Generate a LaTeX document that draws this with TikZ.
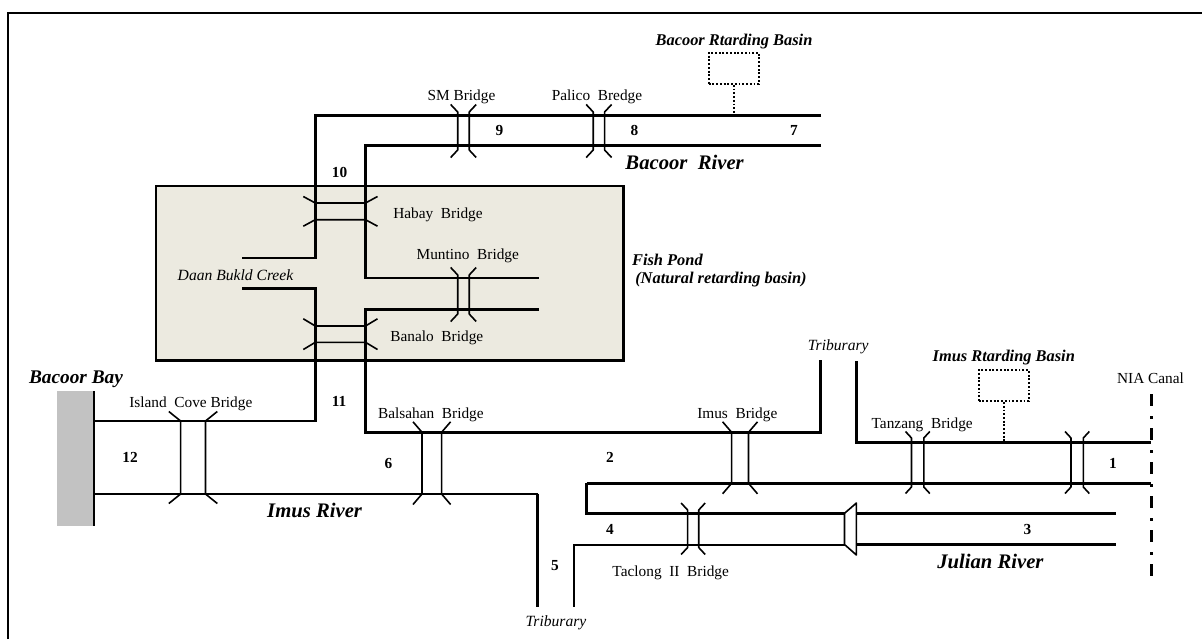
\documentclass[tikz,border=0pt]{standalone}
\usepackage{fontspec}
\setmainfont{Liberation Serif}
\definecolor{pondfill}{HTML}{ECEAE0}
\definecolor{bayfill}{HTML}{C2C2C2}
\tikzset{
  x=0.75pt,y=-0.75pt,
  riverA/.style={line width=2.2pt,line join=miter,line cap=butt},
  riverB/.style={line width=1.8pt,line join=miter,line cap=butt},
  bridgeline/.style={line width=1.2pt,line join=round},
  dotbox/.style={draw,dash pattern=on 1.4pt off 1.4pt,line width=1.3pt,minimum width=37.5pt,minimum height=23.5pt,inner sep=0pt},
  dotstem/.style={dash pattern=on 1.4pt off 1.4pt,line width=1.3pt},
  canal/.style={line width=2.2pt,dash pattern=on 9pt off 7.5pt on 2pt off 7pt},
  tx/.style={inner sep=0pt,yshift=-1.5pt,font=\fontsize{11.5}{13}\selectfont},
  num/.style={inner sep=0pt,font=\fontsize{11.5}{13}\selectfont\bfseries},
  ital/.style={inner sep=0pt,font=\fontsize{11.7}{13}\selectfont\itshape},
  bi/.style={inner sep=0pt,font=\fontsize{12.3}{13}\selectfont\bfseries\itshape},
  big/.style={inner sep=0pt,font=\fontsize{15.5}{17}\selectfont\bfseries\itshape},
}
\newcommand{\vbr}[6]{% x1,x2,yjointtop,yjointbot,dx,dy
  \draw[bridgeline] ({#1-#5},{#3-#6}) -- (#1,#3) -- (#1,#4) -- ({#1-#5},{#4+#6});
  \draw[bridgeline] ({#2+#5},{#3-#6}) -- (#2,#3) -- (#2,#4) -- ({#2+#5},{#4+#6});
}
\newcommand{\hbr}[6]{% y1,y2,xjointleft,xjointright,dx,dy
  \draw[bridgeline] ({#3-#5},{#1-#6}) -- (#3,#1) -- (#4,#1) -- ({#4+#5},{#1-#6});
  \draw[bridgeline] ({#3-#5},{#2+#6}) -- (#3,#2) -- (#4,#2) -- ({#4+#5},{#2+#6});
}
\begin{document}
\begin{tikzpicture}
\useasboundingbox (0,0) rectangle (1202,639);
% frame (top and left only)
\draw[line width=1.2pt] (8,639) -- (8,13) -- (1202,13);
% fish pond
\draw[fill=pondfill,line width=1.9pt] (155.8,186) rectangle (623.7,360.7);
% bay
\fill[bayfill] (57,391) rectangle (94,525.5);
\draw[line width=2.2pt] (94,391) -- (94,525.5);
% Bacoor river and upper channel
\draw[riverA] (821,115.5) -- (315.3,115.5) -- (315.3,258) -- (242,258);
\draw[riverA] (821,145.8) -- (365.5,145.8) -- (365.5,278) -- (539,278);
\draw[riverA] (539,309.7) -- (365.5,309.7) -- (365.5,432.3) -- (820.5,432.3) -- (820.5,360);
\draw[riverA] (242,288.3) -- (315.3,288.3) -- (315.3,421) -- (94,421);
% Imus river
\draw[riverB] (94,493.7) -- (537.7,493.7);
\draw[riverA] (537.7,493.7) -- (537.7,606.7);
\draw[riverA] (574,606.7) -- (574,545) -- (844.5,545);
\draw[riverA] (856.4,544.5) -- (1115.5,544.5);
\draw[riverA] (844.5,513.3) -- (586.7,513.3) -- (586.7,483.3);
\draw[riverB] (586.7,483.3) -- (1151,483.3);
\draw[riverA] (856.4,513.3) -- (1116,513.3);
\draw[riverA] (856.4,361) -- (856.4,442.3) -- (1151,442.3);
% trapezoid structure
\draw[line width=1.2pt,line join=round] (844.5,513.3) -- (856.4,503) -- (856.4,555) -- (844.5,544.5) -- cycle;
% canal
\draw[canal] (1151.5,394) -- (1151.5,576.5);
% bridges
\vbr{457.7}{469.2}{112}{150}{7}{7.5}
\vbr{593.2}{604.6}{112}{150}{7}{7.5}
\vbr{457.7}{469.2}{275}{314}{7}{7.5}
\vbr{180.6}{205.5}{421}{494}{11.8}{9.5}
\vbr{422}{441.6}{432.3}{494}{9}{10.5}
\vbr{731.6}{748.5}{432.3}{483.3}{9}{10.5}
\vbr{911.5}{923.8}{438}{487}{6}{6.5}
\vbr{1071}{1083.3}{438}{487}{6}{6.5}
\vbr{687.6}{698.7}{510}{547.5}{6.5}{7}
\hbr{203}{219.7}{315.3}{365.5}{12}{6.5}
\hbr{326}{342.3}{315.3}{365.5}{12}{7.2}
% dotted boxes
\node[dotbox] (bacoorbasin) at (733.7,68.3) {};
\coordinate (bacoorjoin) at (733.7,115.5);
\draw[dotstem] (bacoorbasin.south) -- (bacoorjoin);
\node[dotbox] (imusbasin) at (1003.7,385.5) {};
\coordinate (imusjoin) at (1003.7,442.3);
\draw[dotstem] (imusbasin.south) -- (imusjoin);
% labels
\node[tx] (tSM) at (461.5,95) {SM Bridge};
\node[tx] (tPal) at (597,95) {Palico\ \ Bredge};
\node[tx] (tHab) at (438,212.7) {Habay\ \ Bridge};
\node[tx] (tMun) at (467.8,254) {Muntino\ \ Bridge};
\node[tx] (tBan) at (436.8,335.7) {Banalo\ \ Bridge};
\node[tx] (tIsl) at (190.8,402) {Island\ \ Cove Bridge};
\node[tx] (tBal) at (430.9,413) {Balsahan\ \ Bridge};
\node[tx] (tImu) at (737.3,412.7) {Imus\ \ Bridge};
\node[tx] (tTan) at (922.2,423) {Tanzang\ \ Bridge};
\node[tx] (tTac) at (670.7,571) {Taclong\ \ II\ \ Bridge};
\node[tx] (tNIA) at (1150.5,376) {NIA Canal};
\node[num] (n1) at (1113,463.7) {1};
\node[num] (n2) at (610,457) {2};
\node[num] (n3) at (1027.5,529.3) {3};
\node[num] (n4) at (610,529.3) {4};
\node[num] (n5) at (555,565.7) {5};
\node[num] (n6) at (388.4,463.7) {6};
\node[num] (n7) at (794,130) {7};
\node[num] (n8) at (634.4,130) {8};
\node[num] (n9) at (499.4,130) {9};
\node[num] (n10) at (339.5,172) {10};
\node[num] (n11) at (339,401.7) {11};
\node[num] (n12) at (130,457.3) {12};
\node[ital] (tCreek) at (235.5,275) {Daan Bukld Creek};
\node[ital] (tTrib1) at (556,622.3) {Triburary};
\node[ital] (tTrib2) at (838.2,346.7) {Triburary};
\node[bi] (tBB) at (734,41.5) {Bacoor Rtarding Basin};
\node[bi] (tIB) at (1003.8,358) {Imus Rtarding Basin};
\node[bi,anchor=west] (tFish) at (631.8,260) {Fish Pond};
\node[bi,anchor=west] (tNat) at (635,280) {(Natural retarding basin)};
\node[big] (tBacR) at (684.6,162.7) {Bacoor\ \ River};
\node[big] (tImR) at (314.6,510.7) {Imus River};
\node[big] (tJul) at (990.4,561.3) {Julian River};
\node[big,font=\fontsize{14.5}{16}\selectfont\bfseries\itshape] (tBay) at (76,379) {Bacoor Bay};
\end{tikzpicture}
\end{document}
